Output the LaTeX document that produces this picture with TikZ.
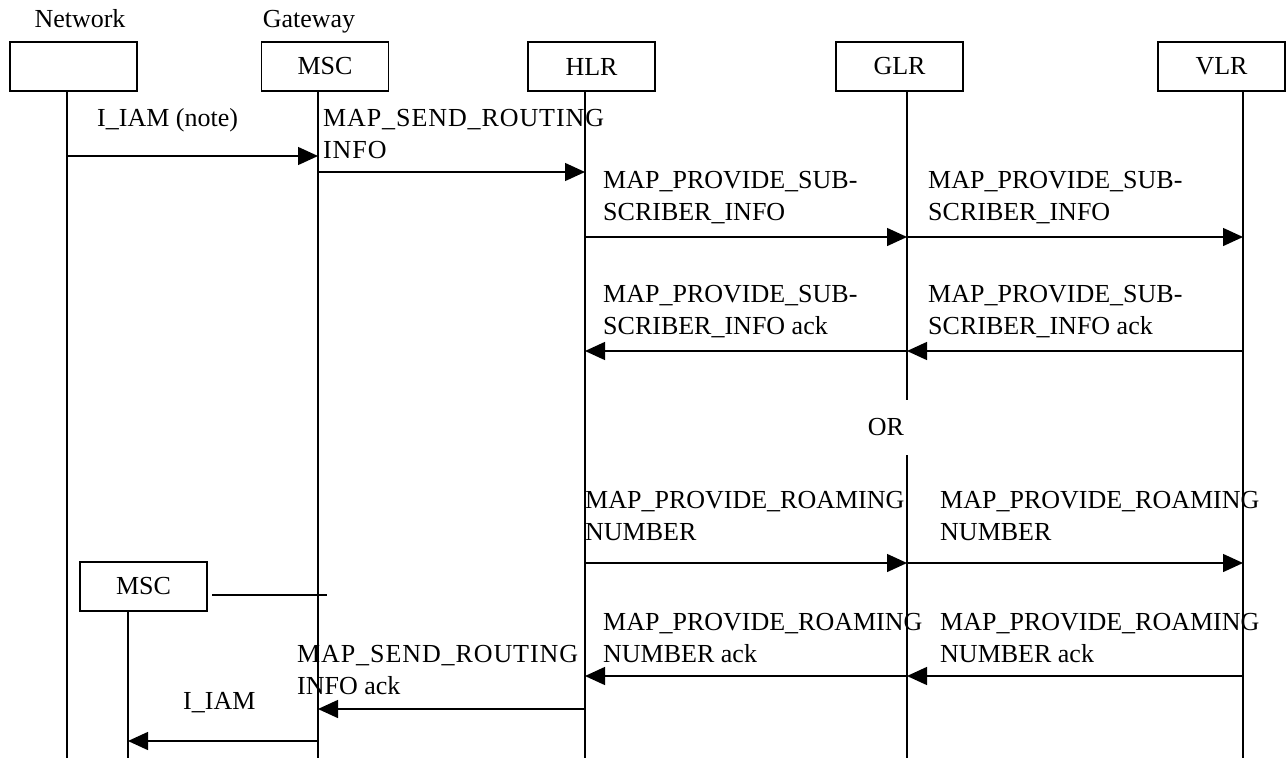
\documentclass[tikz,border=0pt]{standalone}
\usepackage{fontspec}
\setmainfont{Liberation Serif}
\usetikzlibrary{arrows.meta,positioning}
\newcommand{\spaced}[1]{{\addfontfeature{LetterSpace=3.5}#1}}

\begin{document}
\begin{tikzpicture}[
    x=1pt, y=-1pt,
    every node/.style={font=\fontsize{26}{32}\selectfont},
    entity/.style={rectangle,draw,line width=1.4pt,minimum width=127pt,minimum height=49pt,inner sep=0pt},
    life/.style={line width=1.4pt},
    msg/.style={line width=1.4pt,-{Triangle[length=20pt,width=18pt]}},
    lbl/.style={anchor=west,align=left,inner sep=0pt}
]
\useasboundingbox (0,0) rectangle (1286,758);

\node[anchor=base] (netlbl) at (80,27) {Network};
\node[anchor=base] (gwlbl) at (309,27) {Gateway};

\node[entity] (net) at (73.5,66.5) {};
\node[entity] (gmsc) at (325,66.5) {MSC};
\node[entity] (hlr) at (591.5,66.5) {HLR};
\node[entity] (glr) at (899.5,66.5) {GLR};
\node[entity] (vlr) at (1221.5,66.5) {VLR};
\node[entity] (vmsc) at (143.5,586.5) {MSC};

\coordinate (netL) at (67,91);
\coordinate (gmscL) at (318,91);
\coordinate (hlrL) at (585,91);
\coordinate (glrL) at (907,91);
\coordinate (vlrL) at (1243,91);
\coordinate (vmscL) at (128,611);
\coordinate (orTop) at (907,400);
\coordinate (orBot) at (907,455);
\coordinate (bot) at (0,758);

\draw[life] (netL) -- (netL |- bot);
\draw[life] (gmscL) -- (gmscL |- bot);
\draw[life] (hlrL) -- (hlrL |- bot);
\draw[life] (glrL) -- (orTop);
\draw[life] (orBot) -- (glrL |- bot);
\draw[life] (vlrL) -- (vlrL |- bot);
\draw[life] (vmscL) -- (vmscL |- bot);

\node (or) at (886,427) {OR};

\coordinate (iam) at (0,156);
\coordinate (sri) at (0,172);
\coordinate (psi) at (0,237);
\coordinate (psiack) at (0,351);
\coordinate (prn) at (0,563);
\coordinate (prnack) at (0,676);
\coordinate (sriack) at (0,709);
\coordinate (iam2) at (0,741);

\draw[msg] (netL |- iam) -- (gmscL |- iam);
\draw[msg] (gmscL |- sri) -- (hlrL |- sri);
\draw[msg] (hlrL |- psi) -- (glrL |- psi);
\draw[msg] (glrL |- psi) -- (vlrL |- psi);
\draw[msg] (glrL |- psiack) -- (hlrL |- psiack);
\draw[msg] (vlrL |- psiack) -- (glrL |- psiack);
\draw[msg] (hlrL |- prn) -- (glrL |- prn);
\draw[msg] (glrL |- prn) -- (vlrL |- prn);
\draw[msg] (glrL |- prnack) -- (hlrL |- prnack);
\draw[msg] (vlrL |- prnack) -- (glrL |- prnack);
\draw[msg] (hlrL |- sriack) -- (gmscL |- sriack);
\draw[msg] (gmscL |- iam2) -- (vmscL |- iam2);

\coordinate (tieStart) at (212,595);
\coordinate (tieEnd) at (327,595);
\draw[line width=1.2pt] (tieStart) -- (tieEnd);

\node[lbl] (iamlbl) at (97,120) {I\_IAM (note)};
\node[lbl] (srilbl) at (323,134.5) {\spaced{MAP\_SEND\_ROUTING}\\\spaced{INFO}};
\node[lbl] (psilbl1) at (603,198) {MAP\_PROVIDE\_SUB-\\SCRIBER\_INFO};
\node[lbl] (psilbl2) at (928,198) {MAP\_PROVIDE\_SUB-\\SCRIBER\_INFO};
\node[lbl] (psiacklbl1) at (603,312) {MAP\_PROVIDE\_SUB-\\SCRIBER\_INFO ack};
\node[lbl] (psiacklbl2) at (928,312) {MAP\_PROVIDE\_SUB-\\SCRIBER\_INFO ack};
\node[lbl] (prnlbl1) at (585,516) {MAP\_PROVIDE\_ROAMING\\NUMBER};
\node[lbl] (prnlbl2) at (940,516) {MAP\_PROVIDE\_ROAMING\\NUMBER};
\node[lbl] (prnacklbl1) at (603,638) {MAP\_PROVIDE\_ROAMING\\NUMBER ack};
\node[lbl] (prnacklbl2) at (940,638) {MAP\_PROVIDE\_ROAMING\\NUMBER ack};
\node[lbl] (sriacklbl) at (297,670) {\spaced{MAP\_SEND\_ROUTING}\\INFO ack};
\node[lbl] (iam2lbl) at (183,703) {I\_IAM};
\end{tikzpicture}
\end{document}
